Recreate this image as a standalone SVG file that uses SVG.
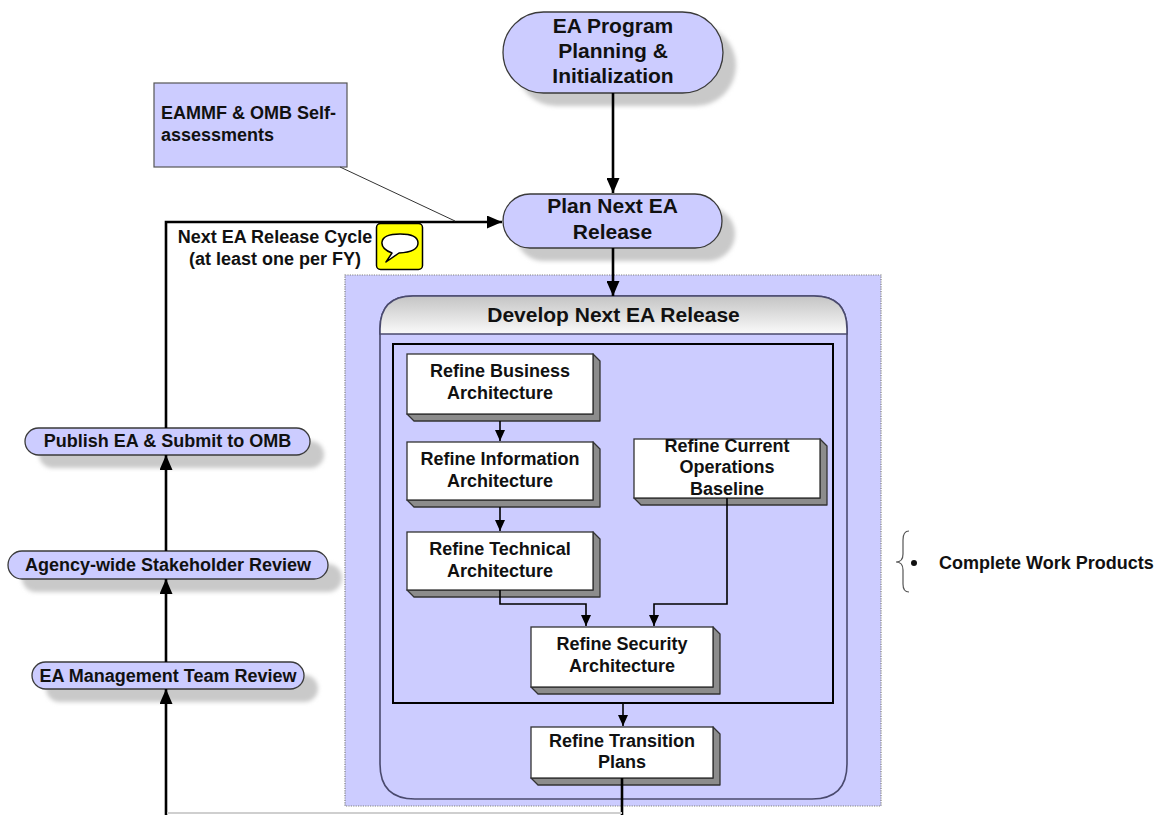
<svg xmlns="http://www.w3.org/2000/svg" width="1162" height="815" viewBox="0 0 1162 815">
<defs>
<style>
text{font-family:"Liberation Sans",Arial,sans-serif;font-weight:bold;fill:#111}
.t21{font-size:21px;text-anchor:middle}
.t18{font-size:18px;text-anchor:middle}
.stad{fill:#CCCCFF;stroke:#3a3a3a;stroke-width:1.3}
.shad{fill:#c9c9c9;filter:url(#blur)}
.face{fill:#fff;stroke:#333;stroke-width:1.3}
.bevel{fill:#8c8c8c;stroke:#333;stroke-width:1.3;stroke-linejoin:round}
.main{fill:none;stroke:#000;stroke-width:2.6}
.thin{fill:none;stroke:#000;stroke-width:1.6}
</style>
<filter id="blur" x="-10%" y="-30%" width="120%" height="160%"><feGaussianBlur stdDeviation="2"/></filter>
<linearGradient id="hdr" x1="0" y1="0" x2="0" y2="1"><stop offset="0" stop-color="#c4c4c4"/><stop offset="1" stop-color="#fafafa"/></linearGradient>
<marker id="big" markerUnits="userSpaceOnUse" markerWidth="15" markerHeight="13" refX="15" refY="6.5" orient="auto"><path d="M0,0 L15,6.5 L0,13 z" fill="#000"/></marker>
<marker id="small" markerUnits="userSpaceOnUse" markerWidth="11" markerHeight="10" refX="11" refY="5" orient="auto"><path d="M0,0 L11,5 L0,10 z" fill="#000"/></marker>
</defs>
<rect width="1162" height="815" fill="#fff"/>

<g id="release-area">
<rect x="345" y="275" width="536" height="531" fill="#CCCCFF" stroke="#808080" stroke-width="1.2" stroke-dasharray="1.2,1.2"/>
</g>

<g id="develop-next-ea-release">
<path d="M380,329 Q380,296 413,296 H814 Q847,296 847,329 V764 Q847,799 812,799 H415 Q380,799 380,764 Z" fill="#CCCCFF" stroke="#4a4a6e" stroke-width="1.6"/>
<path d="M380,334 V329 Q380,296 413,296 H814 Q847,296 847,329 V334 Z" fill="url(#hdr)" stroke="#4a4a6e" stroke-width="1.6"/>
<text class="t21" x="613.5" y="322">Develop Next EA Release</text>
<rect x="393" y="344" width="440" height="359" fill="none" stroke="#000" stroke-width="2"/>
</g>

<g id="ea-program-planning">
<rect class="shad" x="516" y="25" width="220" height="81" rx="40.5"/>
<rect class="stad" x="503" y="12" width="220" height="81" rx="40.5"/>
<text class="t21" x="613" y="33">EA Program</text>
<text class="t21" x="613" y="58">Planning &amp;</text>
<text class="t21" x="613" y="83">Initialization</text>
</g>

<g id="plan-next-ea-release">
<rect class="shad" x="516" y="207" width="219" height="54" rx="27"/>
<rect class="stad" x="503" y="194" width="219" height="54" rx="27"/>
<text class="t21" x="612.5" y="213">Plan Next EA</text>
<text class="t21" x="612.5" y="239">Release</text>
</g>

<g id="eammf-omb">
<rect x="154" y="83" width="193" height="84" fill="#CCCCFF" stroke="#555" stroke-width="1.2"/>
<text x="161" y="119" style="font-size:18px">EAMMF &amp; OMB Self-</text>
<text x="161" y="141" style="font-size:18px">assessments</text>
</g>

<g id="publish-ea">
<rect class="shad" x="39" y="441" width="285" height="27" rx="13.5"/>
<rect class="stad" x="25" y="428" width="285" height="27" rx="13.5"/>
<text class="t18" x="167.5" y="447">Publish EA &amp; Submit to OMB</text>
</g>

<g id="agency-review">
<rect class="shad" x="22" y="564" width="320" height="28" rx="14"/>
<rect class="stad" x="8" y="551" width="320" height="28" rx="14"/>
<text class="t18" x="168" y="571">Agency-wide Stakeholder Review</text>
</g>

<g id="ea-mgmt-review">
<rect class="shad" x="46" y="675" width="272" height="27" rx="13.5"/>
<rect class="stad" x="32" y="662" width="272" height="27" rx="13.5"/>
<text class="t18" x="168" y="682">EA Management Team Review</text>
</g>

<g id="cycle-label">
<text class="t18" x="275" y="243">Next EA Release Cycle</text>
<text class="t18" x="275" y="265">(at least one per FY)</text>
</g>

<g id="comment-icon">
<rect x="376.5" y="223.5" width="46" height="46" rx="4" fill="#FFFF00" stroke="#000" stroke-width="1.5"/>
<path d="M392,253 Q381,249 382,242 Q383,234 400,234 Q418,234 418,243 Q418,252 399,253 L386,262 Z" fill="#fff" stroke="#000" stroke-width="1.5" stroke-linejoin="round"/>
</g>

<g id="refine-business">
<path class="bevel" d="M407,414 H593 V354 L600,361 V421 H414 Z"/>
<rect class="face" x="407" y="354" width="186" height="60"/>
<text class="t18" x="500" y="377">Refine Business</text>
<text class="t18" x="500" y="399">Architecture</text>
</g>

<g id="refine-information">
<path class="bevel" d="M407,500 H593 V442 L600,449 V507 H414 Z"/>
<rect class="face" x="407" y="442" width="186" height="58"/>
<text class="t18" x="500" y="465">Refine Information</text>
<text class="t18" x="500" y="487">Architecture</text>
</g>

<g id="refine-technical">
<path class="bevel" d="M407,590 H593 V532 L600,539 V597 H414 Z"/>
<rect class="face" x="407" y="532" width="186" height="58"/>
<text class="t18" x="500" y="555">Refine Technical</text>
<text class="t18" x="500" y="577">Architecture</text>
</g>

<g id="refine-current-ops">
<path class="bevel" d="M634,498 H820 V439 L827,446 V505 H641 Z"/>
<rect class="face" x="634" y="439" width="186" height="59"/>
<text class="t18" x="727" y="452">Refine Current</text>
<text class="t18" x="727" y="473">Operations</text>
<text class="t18" x="727" y="495">Baseline</text>
</g>

<g id="refine-security">
<path class="bevel" d="M531,687 H713 V627 L720,634 V694 H538 Z"/>
<rect class="face" x="531" y="627" width="182" height="60"/>
<text class="t18" x="622" y="650">Refine Security</text>
<text class="t18" x="622" y="672">Architecture</text>
</g>

<g id="refine-transition">
<path class="bevel" d="M531,778 H713 V727 L720,734 V785 H538 Z"/>
<rect class="face" x="531" y="727" width="182" height="51"/>
<text class="t18" x="622" y="747">Refine Transition</text>
<text class="t18" x="622" y="768">Plans</text>
</g>

<g id="complete-work-products">
<path d="M909,531 Q903,531 903,540 V554 Q903,562 896,562 Q903,562 903,570 V584 Q903,592 909,592" fill="none" stroke="#555" stroke-width="1.2"/>
<circle cx="914" cy="563" r="3" fill="#111"/>
<text x="939" y="569" style="font-size:18px">Complete Work Products</text>
</g>

<g id="connectors">
<path class="main" d="M613,93 V193" marker-end="url(#big)"/>
<path class="main" d="M613,248 V296" marker-end="url(#big)"/>
<path class="main" d="M166,428 V222 H502" marker-end="url(#big)"/>
<path class="main" d="M166,551 V455" marker-end="url(#big)"/>
<path class="main" d="M166,662 V579" marker-end="url(#big)"/>
<path class="main" d="M166,815 V689" marker-end="url(#big)"/>
<path d="M340,167 L455,221" fill="none" stroke="#333" stroke-width="1"/>
<path class="thin" d="M500,421 V441" marker-end="url(#small)"/>
<path class="thin" d="M500,507 V531" marker-end="url(#small)"/>
<path class="thin" d="M500,590 V604 H586 V626" marker-end="url(#small)"/>
<path class="thin" d="M727,498 V604 H654 V626" marker-end="url(#small)"/>
<path class="thin" d="M623,703 V726" marker-end="url(#small)"/>
<path class="main" d="M622,778 V815"/>
<path d="M167,813 H622" fill="none" stroke="#cfcfcf" stroke-width="2"/>
</g>
</svg>
